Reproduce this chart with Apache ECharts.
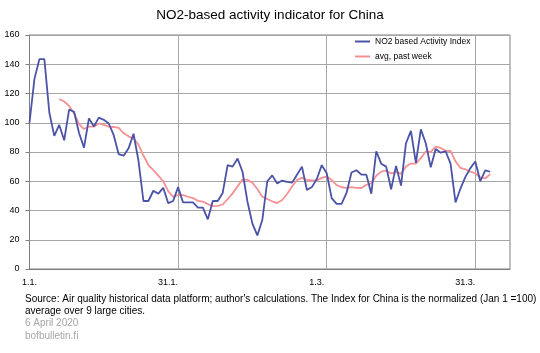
<!DOCTYPE html>
<html>
<head>
<meta charset="utf-8">
<script src="https://cdn.jsdelivr.net/npm/echarts@6/dist/echarts.min.js"></script>
<style>
html,body{margin:0;padding:0;background:#fff;}
#chart{width:540px;height:353px;}
</style>
</head>
<body>
<div id="chart"></div>
<script>
// ---- data ----
const startDate = [2020, 0, 1];   // 1 Jan 2020
const dayCount = 98;              // axis spans 1.1. .. 7.4.
const tickDays = [0, 30, 60, 90];
const tickLabels = ['1.1.', '31.1.', '1.3.', '31.3.'];

const activityIndex = [
  100, 130, 143.5, 143.5, 107, 91, 98.5, 88, 109, 107.5,
  93, 83, 103, 97.5, 103.5, 102, 99.5, 91.5, 78.5, 77.5,
  82.5, 92.5, 74, 46.5, 46.5, 53.5, 51.5, 55.5, 45, 46.5,
  56, 45.5, 45.5, 45.5, 42, 42, 34, 46.5, 46.5, 52,
  71, 70, 75.5, 66.5, 46, 31, 23, 33.5, 60, 64,
  58.5, 60.5, 59.5, 59, 64.5, 70, 54, 56, 61.5, 71,
  65.5, 48.5, 44.5, 44.5, 52, 66, 67.5, 64.5, 64.5, 51.5,
  80.5, 72, 70, 54.5, 70.5, 57, 86, 94.5, 72.5, 95.5,
  86, 69.5, 82, 79.5, 80.5, 72, 45.5, 55, 63, 69,
  73.5, 60, 67.5, 66.5
];

const weekAverage = [
  null, null, null, null, null, null, 116.2, 114.5, 111.5, 106.4,
  99.1, 95.7, 97.4, 97.3, 99.5, 98.5, 97.4, 97.1, 96.5, 92.9,
  90.7, 89.1, 85.1, 77.6, 71.1, 67.6, 63.9, 60.0, 53.2, 49.3,
  50.6, 50.5, 49.4, 48.5, 46.6, 46.1, 44.4, 43.0, 43.1, 44.1,
  47.7, 51.7, 56.5, 61.1, 61.1, 58.9, 54.7, 49.4, 47.9, 46.3,
  45.1, 47.2, 51.3, 56.4, 60.9, 62.3, 60.9, 60.5, 60.6, 62.3,
  63.2, 60.9, 57.3, 55.9, 55.4, 56.0, 55.5, 55.4, 57.6, 58.6,
  63.8, 66.6, 67.2, 65.4, 66.2, 65.1, 70.1, 72.1, 72.1, 75.8,
  80.3, 80.1, 83.7, 82.8, 80.8, 80.7, 73.6, 69.1, 68.2, 66.4,
  65.5, 62.6, 61.9, 64.9
];

const seriesNames = ['NO2 based Activity Index', 'avg, past week'];
const titleText = 'NO2-based activity indicator for China';
const noteLines = [
  "Source: Air quality historical data platform; author's calculations. The Index for China is the normalized (Jan 1 =100)",
  'average over 9 large cities.'
];
const dateLine = '6 April 2020';
const siteLine = 'bofbulletin.fi';

// ---- build categories ----
const categories = [];
for (let i = 0; i < dayCount; i++) {
  const d = new Date(startDate[0], startDate[1], startDate[2] + i);
  categories.push(d.getDate() + '.' + (d.getMonth() + 1) + '.');
}

const FONT = "'Liberation Sans', Arial, sans-serif";

const chart = echarts.init(document.getElementById('chart'), null, {renderer: 'canvas'});
chart.setOption({
  animation: false,
  backgroundColor: '#ffffff',
  title: {
    text: titleText,
    left: 'center',
    top: 8,
    padding: 0,
    textStyle: {fontFamily: FONT, fontSize: 13.5, fontWeight: 'normal', color: '#000'}
  },
  legend: {
    orient: 'vertical',
    left: 355,
    top: 37,
    padding: 0,
    itemGap: 6,
    itemWidth: 15,
    itemHeight: 2,
    icon: 'rect',
    data: seriesNames,
    textStyle: {fontFamily: FONT, fontSize: 8.5, color: '#000'}
  },
  grid: {
    left: 29.5, right: 30, top: 35, bottom: 84,
    show: true, borderColor: '#7f7f7f', borderWidth: 1
  },
  xAxis: {
    type: 'category',
    data: categories,
    boundaryGap: false,
    axisLine: {lineStyle: {color: '#7f7f7f', width: 1}},
    axisTick: {show: false},
    axisLabel: {
      interval: (idx) => tickDays.includes(idx),
      margin: 9,
      fontFamily: FONT, fontSize: 9, color: '#000',
      formatter: (val, idx) => {
        const k = tickDays.indexOf(idx);
        if (k < 0) return '';
        return k === 0 ? '{a|' + tickLabels[k] + '}' : '{b|' + tickLabels[k] + '}';
      },
      rich: {
        a: {fontFamily: FONT, fontSize: 9, color: '#000'},
        b: {fontFamily: FONT, fontSize: 9, color: '#000', padding: [0, 20, 0, 0]}
      }
    },
    splitLine: {
      show: true,
      interval: (idx) => tickDays.includes(idx) && idx > 0,
      lineStyle: {color: '#a6a6a6', width: 1}
    }
  },
  yAxis: {
    type: 'value',
    min: 0, max: 160, interval: 20,
    axisLine: {show: true, lineStyle: {color: '#7f7f7f', width: 1}},
    axisTick: {show: true, length: 4, lineStyle: {color: '#7f7f7f'}},
    axisLabel: {margin: 10, fontFamily: FONT, fontSize: 9, color: '#000'},
    splitLine: {lineStyle: {color: '#a6a6a6', width: 1}}
  },
  series: [
    {
      name: seriesNames[0],
      type: 'line',
      data: activityIndex,
      showSymbol: false,
      symbol: 'none',
      color: '#4a53a6',
      lineStyle: {color: '#4a53a6', width: 1.8},
      z: 3
    },
    {
      name: seriesNames[1],
      type: 'line',
      data: weekAverage,
      showSymbol: false,
      symbol: 'none',
      color: '#f59195',
      lineStyle: {color: '#f59195', width: 1.8},
      z: 2
    }
  ],
  graphic: [
    {type: 'text', left: 25, top: 294, style: {text: noteLines[0], font: '10px ' + FONT, fill: '#000'}},
    {type: 'text', left: 25, top: 306, style: {text: noteLines[1], font: '10px ' + FONT, fill: '#000'}},
    {type: 'text', left: 25, top: 318.5, style: {text: dateLine, font: '10px ' + FONT, fill: '#a6a6a6'}},
    {type: 'text', left: 25, top: 331, style: {text: siteLine, font: '10px ' + FONT, fill: '#a6a6a6'}}
  ]
});
</script>
</body>
</html>
